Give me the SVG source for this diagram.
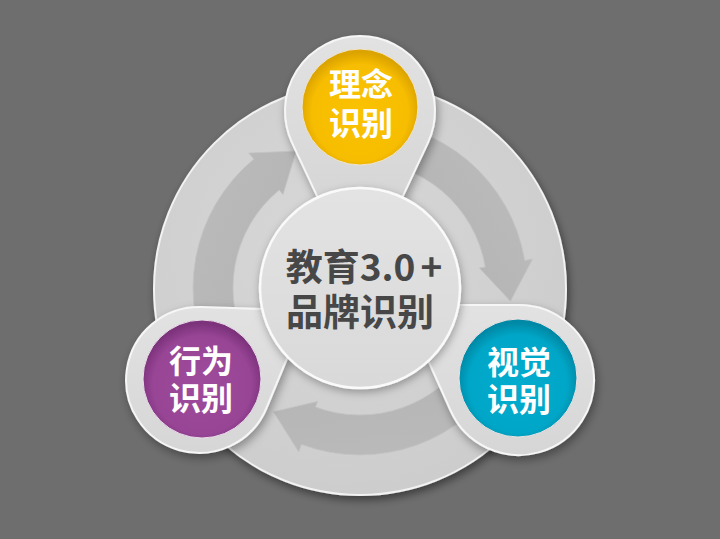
<svg xmlns="http://www.w3.org/2000/svg" width="720" height="539" viewBox="0 0 720 539">
  <style>
    .pin { fill: url(#gPin); stroke: #f6f6f6; stroke-width: 2; stroke-linejoin: round; }
    .arrow { fill: url(#gArrow); stroke: #c4c4c4; stroke-width: 0.8; }
    .lbl { font-family: "Noto Sans CJK SC", "Noto Sans", sans-serif; font-weight: bold; font-size: 32px; fill: #ffffff; text-anchor: middle; }
    .ctr { font-family: "Noto Sans CJK SC", "Noto Sans", sans-serif; font-weight: bold; font-size: 37px; fill: #474747; text-anchor: middle; }
  </style>
  <defs>
    <filter id="shBig" x="-15%" y="-15%" width="130%" height="130%">
      <feDropShadow dx="2" dy="4" stdDeviation="4" flood-color="#000" flood-opacity="0.45"/>
    </filter>
    <filter id="shPin" x="-30%" y="-30%" width="160%" height="160%">
      <feDropShadow dx="2" dy="4" stdDeviation="5" flood-color="#000" flood-opacity="0.35"/>
    </filter>
    <filter id="shCtr" x="-20%" y="-20%" width="140%" height="140%">
      <feDropShadow dx="1" dy="3" stdDeviation="4" flood-color="#000" flood-opacity="0.3"/>
    </filter>
    <radialGradient id="gBig" cx="45%" cy="40%" r="60%">
      <stop offset="0" stop-color="#d8d8d8"/>
      <stop offset="1" stop-color="#cdcdcd"/>
    </radialGradient>
    <linearGradient id="gArrow" x1="0" y1="0" x2="1" y2="1">
      <stop offset="0" stop-color="#bcbcbc"/>
      <stop offset="1" stop-color="#b1b1b1"/>
    </linearGradient>
    <linearGradient id="gPin" x1="0" y1="0" x2="0" y2="1">
      <stop offset="0" stop-color="#e2e2e2"/>
      <stop offset="1" stop-color="#d6d6d6"/>
    </linearGradient>
    <linearGradient id="gCtr" x1="0" y1="0" x2="0" y2="1">
      <stop offset="0" stop-color="#e3e3e3"/>
      <stop offset="1" stop-color="#d9d9d9"/>
    </linearGradient>
    <radialGradient id="gYel" cx="50%" cy="55%" r="52%">
      <stop offset="0" stop-color="#fac200"/>
      <stop offset="0.8" stop-color="#f7bd00"/>
      <stop offset="1" stop-color="#dca400"/>
    </radialGradient>
    <radialGradient id="gPur" cx="50%" cy="55%" r="52%">
      <stop offset="0" stop-color="#9e4b9c"/>
      <stop offset="0.8" stop-color="#984596"/>
      <stop offset="1" stop-color="#7d337c"/>
    </radialGradient>
    <radialGradient id="gTea" cx="50%" cy="55%" r="52%">
      <stop offset="0" stop-color="#02acce"/>
      <stop offset="0.8" stop-color="#00a6c7"/>
      <stop offset="1" stop-color="#0089a6"/>
    </radialGradient>
  </defs>

  <rect width="720" height="539" fill="#6f6e6f"/>

  <g id="base">
    <circle cx="360" cy="289" r="206" fill="url(#gBig)" stroke="#f2f2f2" stroke-width="2" filter="url(#shBig)"/>
  </g>

  <g id="connectors">
    <path class="arrow" d="M 215.4 371.5 A 167 167 0 0 1 253.8 159.1 L 248.7 153.0 L 296.2 151.1 L 283.0 194.6 L 279.2 190.0 A 127 127 0 0 0 250.0 351.5 Z"/>
    <path class="arrow" transform="rotate(120 360 288)" d="M 215.4 371.5 A 167 167 0 0 1 253.8 159.1 L 248.7 153.0 L 296.2 151.1 L 283.0 194.6 L 279.2 190.0 A 127 127 0 0 0 250.0 351.5 Z"/>
    <path class="arrow" transform="rotate(240 360 288)" d="M 215.4 371.5 A 167 167 0 0 1 253.8 159.1 L 248.7 153.0 L 296.2 151.1 L 283.0 194.6 L 279.2 190.0 A 127 127 0 0 0 250.0 351.5 Z"/>
  </g>

  <g id="node-linian">
    <path class="pin" filter="url(#shPin)" d="M 427.9 142.8 A 75 75 0 1 0 292.1 142.8 L 317.7 197.4 L 402.3 197.4 Z"/>
    <circle cx="360" cy="107" r="58" fill="url(#gYel)" stroke="#efe6d6" stroke-width="1"/>
    <text class="lbl"><tspan x="361" y="96">理念</tspan><tspan x="361" y="135">识别</tspan></text>
  </g>

  <g id="node-xingwei">
    <path class="pin" filter="url(#shPin)" d="M 262.2 309 L 201.3 307 A 73 73 0 1 0 266.5 408 L 287.6 357 Z"/>
    <circle cx="202" cy="379" r="59" fill="url(#gPur)" stroke="#eadfea" stroke-width="1"/>
    <text class="lbl"><tspan x="201" y="373">行为</tspan><tspan x="201" y="410">识别</tspan></text>
  </g>

  <g id="node-shijue">
    <path class="pin" filter="url(#shPin)" d="M 458 305 L 519 305 A 75 75 0 1 1 450.5 410.5 L 428 360 Z"/>
    <circle cx="518" cy="378" r="59" fill="url(#gTea)" stroke="#efe3e3" stroke-width="1"/>
    <text class="lbl"><tspan x="519" y="374">视觉</tspan><tspan x="519" y="411">识别</tspan></text>
  </g>

  <g id="node-center">
    <circle cx="360" cy="288" r="100" fill="url(#gCtr)" stroke="#fafafa" stroke-width="2.5" filter="url(#shCtr)"/>
    <text class="ctr"><tspan x="364" y="281">教育3.0<tspan dx="5">+</tspan></tspan><tspan x="360" y="326">品牌识别</tspan></text>
  </g>
</svg>
